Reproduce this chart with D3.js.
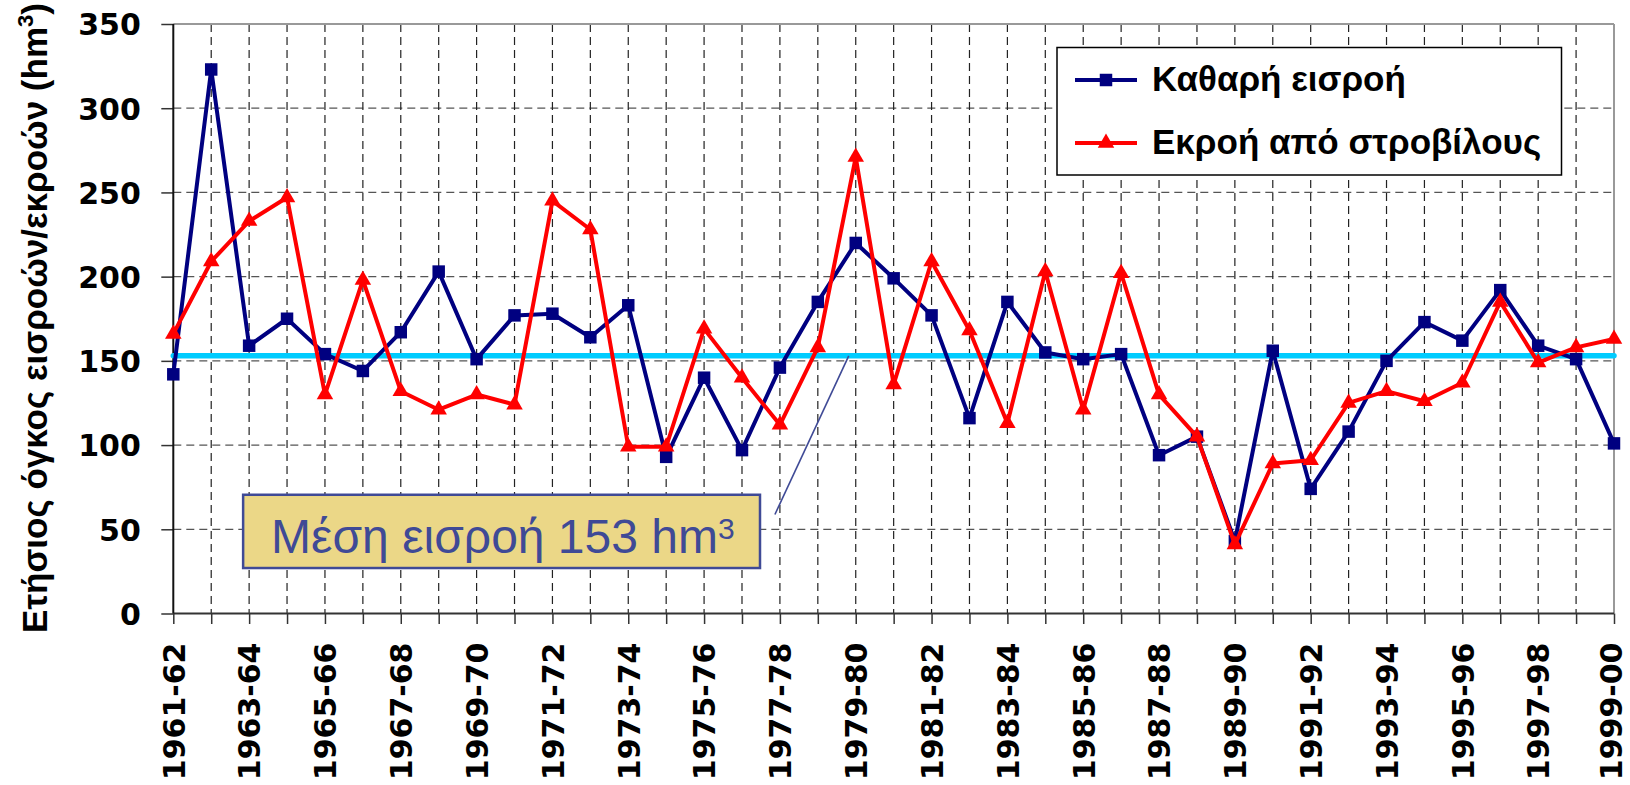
<!DOCTYPE html>
<html lang="el">
<head>
<meta charset="UTF-8">
<title>Ετήσιος όγκος εισροών / εκροών</title>
<style>
  body { margin: 0; background: #fff; }
</style>
</head>
<body>
<script src="https://d3js.org/d3.v7.min.js"></script>
<div id="chart"></div>
<script>
// hydrological years
var years = ["1961-62","1962-63","1963-64","1964-65","1965-66","1966-67","1967-68","1968-69",
  "1969-70","1970-71","1971-72","1972-73","1973-74","1974-75","1975-76","1976-77","1977-78",
  "1978-79","1979-80","1980-81","1981-82","1982-83","1983-84","1984-85","1985-86","1986-87",
  "1987-88","1988-89","1989-90","1990-91","1991-92","1992-93","1993-94","1994-95","1995-96",
  "1996-97","1997-98","1998-99","1999-00"];

// hm3 per year
var netInflow = [142,323,159,175,154,144,167,203,151,177,178,164,183,93,140,97,146,185,220,199,
  177,116,185,155,151,154,94,105,43,156,74,108,150,173,162,192,159,151,101];
var turbineOutflow = [166,209,233,247,130,198,132,121,130,124,245,228,99,99,169,140,112,158,271,136,
  209,168,113,203,121,202,130,105,41,89,91,125,132,126,137,185,149,158,163];

var meanInflow = 153;
var yTicks = [0,50,100,150,200,250,300,350];
var seriesNames = ["Καθαρή εισροή", "Εκροή από στροβίλους"];

var W = 1630, H = 785;
var margin = {top: 24, right: 16, bottom: 171.5, left: 173.3};
var width = W - margin.left - margin.right,
    height = H - margin.top - margin.bottom;

var blue = "#000080", red = "#ff0000", cyan = "#00ccff", noteBlue = "#3f4a96";

var svg = d3.select("#chart").append("svg")
    .attr("width", W).attr("height", H)
    .style("display", "block");

var g = svg.append("g")
    .attr("transform", "translate(" + margin.left + "," + margin.top + ")");

var x = d3.scalePoint().domain(years).range([0, width]);
var y = d3.scaleLinear().domain([0, 350]).range([height, 0]);

// horizontal dashed grid
g.selectAll(".hgrid")
  .data(yTicks.filter(function(v) { return v > 0 && v < 350; }))
  .enter().append("line")
    .attr("x1", 0).attr("x2", width)
    .attr("y1", function(d) { return y(d); })
    .attr("y2", function(d) { return y(d); })
    .attr("stroke", "#555").attr("stroke-width", 1.3)
    .attr("stroke-dasharray", "8,5");

// vertical dashed grid
g.selectAll(".vgrid")
  .data(years.slice(1, years.length - 1))
  .enter().append("line")
    .attr("x1", function(d) { return x(d); })
    .attr("x2", function(d) { return x(d); })
    .attr("y1", 0).attr("y2", height)
    .attr("stroke", "#222").attr("stroke-width", 1.2)
    .attr("stroke-dasharray", "8,5");

// frame: grey top/right, dark left/bottom
g.append("line").attr("x1", 0).attr("x2", width).attr("y1", 0).attr("y2", 0)
  .attr("stroke", "#999").attr("stroke-width", 2);
g.append("line").attr("x1", width).attr("x2", width).attr("y1", 0).attr("y2", height)
  .attr("stroke", "#999").attr("stroke-width", 2);

// y axis
var yAxis = g.append("g")
  .call(d3.axisLeft(y).tickValues(yTicks).tickSize(12).tickPadding(20.5));
yAxis.select(".domain").remove();
yAxis.selectAll("line").attr("stroke", "#333").attr("stroke-width", 1.5);
yAxis.selectAll("text")
  .attr("font-family", "DejaVu Sans").attr("font-weight", "bold")
  .attr("font-size", 30).attr("fill", "#000").attr("dy", "0.36em");

// x axis
var xAxis = g.append("g")
  .attr("transform", "translate(0," + height + ")")
  .call(d3.axisBottom(x).tickSize(10.5)
    .tickFormat(function(d, i) { return i % 2 === 0 ? d : ""; }));
xAxis.select(".domain").remove();
xAxis.selectAll("line").attr("stroke", "#333").attr("stroke-width", 1.5);
xAxis.selectAll("text")
  .attr("font-family", "DejaVu Sans").attr("font-weight", "bold")
  .attr("font-size", 30).attr("fill", "#000")
  .attr("transform", "rotate(-90)")
  .attr("text-anchor", "end")
  .attr("x", -29)
  .attr("y", function(d, i) { return i === years.length - 1 ? -3 : 0; })
  .attr("dy", "0.36em");

g.append("line").attr("x1", 0).attr("x2", width).attr("y1", height).attr("y2", height)
  .attr("stroke", "#333").attr("stroke-width", 2);
g.append("line").attr("x1", 0).attr("x2", 0).attr("y1", 0).attr("y2", height)
  .attr("stroke", "#111").attr("stroke-width", 2);

// mean inflow line
g.append("line")
  .attr("x1", 0).attr("x2", width)
  .attr("y1", y(meanInflow)).attr("y2", y(meanInflow))
  .attr("stroke", cyan).attr("stroke-width", 5.5).attr("stroke-linecap", "round");

// series
var line = d3.line()
  .x(function(d, i) { return x(years[i]); })
  .y(function(d) { return y(d); });

var square = d3.symbol().type(d3.symbolSquare).size(156);
var triangle = d3.symbol().type(d3.symbolTriangle).size(118);

g.append("path").datum(netInflow).attr("d", line)
  .attr("fill", "none").attr("stroke", blue).attr("stroke-width", 4)
  .attr("stroke-linejoin", "round");
g.selectAll(".sq").data(netInflow).enter().append("path")
  .attr("d", square)
  .attr("transform", function(d, i) { return "translate(" + x(years[i]) + "," + y(d) + ")"; })
  .attr("fill", blue);

g.append("path").datum(turbineOutflow).attr("d", line)
  .attr("fill", "none").attr("stroke", red).attr("stroke-width", 4)
  .attr("stroke-linejoin", "round");
g.selectAll(".tr").data(turbineOutflow).enter().append("path")
  .attr("d", triangle)
  .attr("transform", function(d, i) { return "translate(" + x(years[i]) + "," + y(d) + ")"; })
  .attr("fill", red);

// y title
var yTitle = svg.append("text")
  .attr("transform", "translate(47,318) rotate(-90)")
  .attr("text-anchor", "middle")
  .attr("font-family", "Liberation Sans").attr("font-weight", "bold")
  .attr("font-size", 35).attr("fill", "#000");
yTitle.append("tspan").text("Ετήσιος όγκος εισροών/εκροών (hm");
yTitle.append("tspan").attr("font-size", 22).attr("dy", -14).text("3");
yTitle.append("tspan").attr("dy", 14).text(")");

// legend
var legend = svg.append("g").attr("transform", "translate(1057,47.5)");
legend.append("rect").attr("width", 504.5).attr("height", 127.5)
  .attr("fill", "#fff").attr("stroke", "#000").attr("stroke-width", 1.5);
var items = [
  {name: seriesNames[0], color: blue, sym: square},
  {name: seriesNames[1], color: red, sym: triangle}
];
items.forEach(function(it, i) {
  var ly = 32.5 + i * 63;
  legend.append("line").attr("x1", 18).attr("x2", 80).attr("y1", ly).attr("y2", ly)
    .attr("stroke", it.color).attr("stroke-width", 4);
  legend.append("path").attr("d", it.sym)
    .attr("transform", "translate(49," + ly + ")").attr("fill", it.color);
  legend.append("text").attr("x", 95).attr("y", ly + 11)
    .attr("font-family", "Liberation Sans").attr("font-weight", "bold")
    .attr("font-size", 35).attr("fill", "#000").text(it.name);
});

// annotation box for the mean
var bx0 = x(years[2]) - 6, bx1 = x(years[15]) + 18;
var by0 = y(70.5), by1 = y(27);
g.append("line")
  .attr("x1", x(years[16]) - 5).attr("y1", y(58.8))
  .attr("x2", x(years[18]) - 7).attr("y2", y(meanInflow))
  .attr("stroke", noteBlue).attr("stroke-width", 1.6);
g.append("rect")
  .attr("x", bx0).attr("y", by0).attr("width", bx1 - bx0).attr("height", by1 - by0)
  .attr("fill", "#ebd787").attr("stroke", noteBlue).attr("stroke-width", 2.5);
var note = g.append("text")
  .attr("x", bx0 + 28).attr("y", y(35.9))
  .attr("font-family", "Liberation Sans").attr("font-size", 48).attr("fill", noteBlue);
note.append("tspan").text("Μέση εισροή " + meanInflow + " hm");
note.append("tspan").attr("font-size", 30).attr("dy", -14).text("3");
</script>
</body>
</html>
